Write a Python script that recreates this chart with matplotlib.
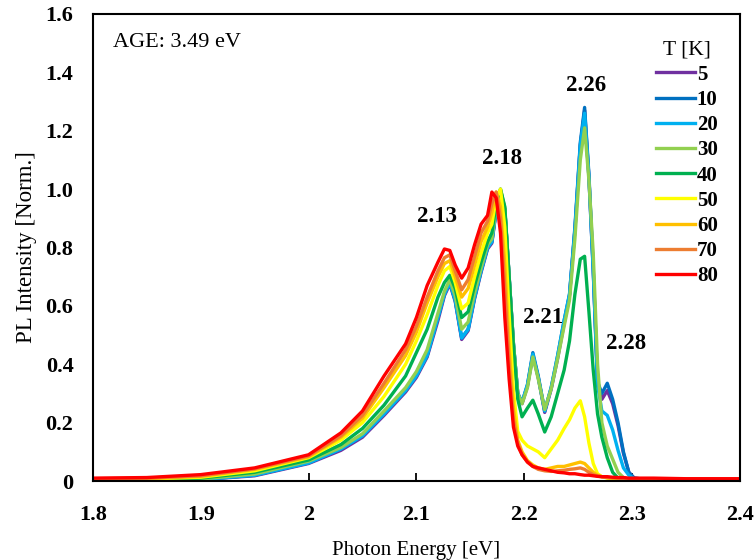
import numpy as np
import matplotlib.pyplot as plt

plt.rcParams['font.family'] = ['Liberation Serif', 'DejaVu Serif']

# photon energy grid (eV)
energy = [1.80, 1.85, 1.90, 1.95, 2.00, 2.03, 2.05, 2.07, 2.09, 2.10,
          2.11, 2.12, 2.126, 2.131, 2.136, 2.142, 2.148, 2.154, 2.160, 2.166,
          2.170, 2.174, 2.178, 2.182, 2.186, 2.190, 2.194, 2.198, 2.203, 2.208,
          2.213, 2.219, 2.225, 2.231, 2.237, 2.242, 2.247, 2.252, 2.256, 2.260,
          2.264, 2.268, 2.272, 2.277, 2.282, 2.287, 2.292, 2.297, 2.302, 2.32,
          2.35, 2.40]

pl_5K = [0.0, 0.002, 0.005, 0.018, 0.06, 0.105, 0.15, 0.225, 0.305, 0.355,
         0.425, 0.55, 0.635, 0.675, 0.615, 0.485, 0.515, 0.625, 0.715, 0.795,
         0.815, 0.925, 0.99, 0.93, 0.70, 0.47, 0.30, 0.265, 0.325, 0.43,
         0.355, 0.235, 0.315, 0.42, 0.54, 0.635, 0.86, 1.15, 1.27, 1.04,
         0.72, 0.33, 0.28, 0.31, 0.265, 0.19, 0.095, 0.03, 0.01, 0.003,
         0.002, 0.0]
pl_10K = [0.0, 0.002, 0.005, 0.02, 0.062, 0.11, 0.155, 0.23, 0.31, 0.36,
          0.43, 0.56, 0.64, 0.68, 0.62, 0.49, 0.52, 0.63, 0.72, 0.80,
          0.82, 0.93, 0.995, 0.93, 0.70, 0.47, 0.30, 0.27, 0.33, 0.44,
          0.36, 0.24, 0.32, 0.43, 0.55, 0.64, 0.87, 1.16, 1.28, 1.05,
          0.73, 0.34, 0.30, 0.335, 0.28, 0.20, 0.10, 0.03, 0.01, 0.003,
          0.002, 0.0]
pl_20K = [0.0, 0.002, 0.005, 0.02, 0.062, 0.11, 0.155, 0.23, 0.31, 0.36,
          0.43, 0.56, 0.64, 0.68, 0.62, 0.49, 0.52, 0.63, 0.72, 0.80,
          0.82, 0.93, 0.995, 0.93, 0.70, 0.47, 0.30, 0.27, 0.33, 0.435,
          0.355, 0.24, 0.32, 0.43, 0.55, 0.64, 0.86, 1.15, 1.26, 1.04,
          0.72, 0.33, 0.24, 0.225, 0.175, 0.105, 0.045, 0.02, 0.008, 0.003,
          0.002, 0.0]
pl_30K = [0.001, 0.003, 0.007, 0.024, 0.068, 0.115, 0.162, 0.24, 0.32, 0.375,
          0.45, 0.575, 0.65, 0.69, 0.635, 0.52, 0.545, 0.645, 0.73, 0.81,
          0.83, 0.94, 1.0, 0.935, 0.70, 0.47, 0.30, 0.265, 0.32, 0.425,
          0.35, 0.245, 0.315, 0.42, 0.53, 0.62, 0.83, 1.10, 1.21, 1.03,
          0.78, 0.40, 0.20, 0.12, 0.075, 0.03, 0.012, 0.006, 0.004, 0.003,
          0.002, 0.001]
pl_40K = [0.003, 0.005, 0.01, 0.03, 0.072, 0.125, 0.18, 0.26, 0.36, 0.44,
          0.52, 0.63, 0.68, 0.705, 0.66, 0.56, 0.58, 0.67, 0.75, 0.82,
          0.85, 0.95, 1.0, 0.94, 0.70, 0.46, 0.28, 0.22, 0.25, 0.277,
          0.23, 0.168, 0.22, 0.30, 0.38, 0.48, 0.64, 0.76, 0.77, 0.58,
          0.38, 0.23, 0.15, 0.08, 0.03, 0.01, 0.006, 0.005, 0.004, 0.003,
          0.003, 0.002]
pl_50K = [0.005, 0.007, 0.013, 0.035, 0.08, 0.14, 0.20, 0.29, 0.40, 0.48,
          0.57, 0.67, 0.72, 0.735, 0.68, 0.59, 0.61, 0.70, 0.78, 0.85,
          0.88, 0.97, 1.0, 0.87, 0.57, 0.31, 0.17, 0.14, 0.12, 0.11,
          0.10, 0.08, 0.11, 0.14, 0.18, 0.21, 0.25, 0.275, 0.22, 0.13,
          0.06, 0.025, 0.015, 0.01, 0.008, 0.007, 0.006, 0.005, 0.005, 0.004,
          0.004, 0.003]
pl_60K = [0.007, 0.009, 0.016, 0.04, 0.083, 0.15, 0.215, 0.32, 0.43, 0.51,
          0.61, 0.70, 0.745, 0.755, 0.70, 0.63, 0.66, 0.74, 0.82, 0.87,
          0.92, 0.99, 0.94, 0.74, 0.46, 0.25, 0.14, 0.10, 0.07, 0.055,
          0.045, 0.04, 0.045, 0.05, 0.05, 0.055, 0.06, 0.065, 0.06, 0.045,
          0.03, 0.02, 0.015, 0.012, 0.01, 0.009, 0.008, 0.007, 0.007, 0.006,
          0.006, 0.005]
pl_70K = [0.008, 0.01, 0.018, 0.042, 0.086, 0.155, 0.225, 0.335, 0.45, 0.53,
          0.63, 0.72, 0.765, 0.775, 0.72, 0.655, 0.69, 0.77, 0.85, 0.89,
          0.95, 0.99, 0.90, 0.66, 0.40, 0.21, 0.13, 0.09, 0.065, 0.05,
          0.04, 0.035, 0.033, 0.035, 0.037, 0.04, 0.042, 0.045, 0.04, 0.03,
          0.022, 0.017, 0.014, 0.012, 0.011, 0.01, 0.009, 0.008, 0.008, 0.007,
          0.007, 0.006]
pl_80K = [0.01, 0.012, 0.022, 0.045, 0.09, 0.165, 0.24, 0.36, 0.47, 0.56,
          0.67, 0.75, 0.795, 0.79, 0.74, 0.695, 0.73, 0.81, 0.88, 0.91,
          0.99, 0.97, 0.85, 0.56, 0.35, 0.185, 0.12, 0.09, 0.065, 0.05,
          0.045, 0.04, 0.035, 0.03, 0.028, 0.025, 0.025, 0.022, 0.02, 0.02,
          0.018, 0.016, 0.015, 0.015, 0.013, 0.012, 0.012, 0.01, 0.01, 0.01,
          0.008, 0.008]

temps = ['5', '10', '20', '30', '40', '50', '60', '70', '80']
spectra = [pl_5K, pl_10K, pl_20K, pl_30K, pl_40K, pl_50K, pl_60K, pl_70K, pl_80K]
colors = ['#7030A0', '#0070C0', '#00B0F0', '#92D050', '#00B050',
          '#FFFF00', '#FFC000', '#ED7D31', '#FF0000']

peak_labels = ['2.13', '2.18', '2.21', '2.26', '2.28']
peak_pos = [(2.119, 0.905), (2.1795, 1.105), (2.2175, 0.56), (2.2573, 1.355), (2.2944, 0.47)]

fig = plt.figure(figsize=(7.55, 5.6), dpi=100)
ax = fig.add_axes([0.123, 0.141, 0.857, 0.834])

for t, y, c in zip(temps, spectra, colors):
    ax.plot(energy, y, color=c, lw=2.4, label=t, solid_joinstyle='round')

for lab, (px, py) in zip(peak_labels, peak_pos):
    ax.text(px, py, lab, ha='center', va='center', fontsize=16.5, fontweight='bold')

ax.text(0.031, 0.94, 'AGE: 3.49 eV', transform=ax.transAxes, fontsize=16,
        ha='left', va='center')

ax.set_xlim(1.8, 2.4)
ax.set_ylim(0, 1.6)
ax.set_xticks([1.8, 1.9, 2.0, 2.1, 2.2, 2.3, 2.4])
ax.set_xticklabels(['1.8', '1.9', '2', '2.1', '2.2', '2.3', '2.4'])
ax.set_yticks([0, 0.2, 0.4, 0.6, 0.8, 1.0, 1.2, 1.4, 1.6])
ax.set_yticklabels(['0', '0.2', '0.4', '0.6', '0.8', '1.0', '1.2', '1.4', '1.6'])
ax.tick_params(axis='x', direction='in', length=6, width=1.3, pad=17, labelsize=16)
ax.tick_params(axis='y', length=0, pad=14, labelsize=16)
for lab in ax.get_xticklabels() + ax.get_yticklabels():
    lab.set_fontweight('bold')
for s in ax.spines.values():
    s.set_linewidth(1.5)

ax.set_xlabel('Photon Energy [eV]', fontsize=15, labelpad=12)
ax.set_ylabel('PL Intensity [Norm.]', fontsize=16.5, labelpad=6)

leg = ax.legend(title='T [K]', loc='upper right', bbox_to_anchor=(0.985, 0.97),
                frameon=False, prop={'weight': 'bold', 'size': 15},
                title_fontsize=15.5, handlelength=1.85, handletextpad=0.1,
                labelspacing=0.25, borderaxespad=0.2)

plt.savefig('out.png', dpi=100)
